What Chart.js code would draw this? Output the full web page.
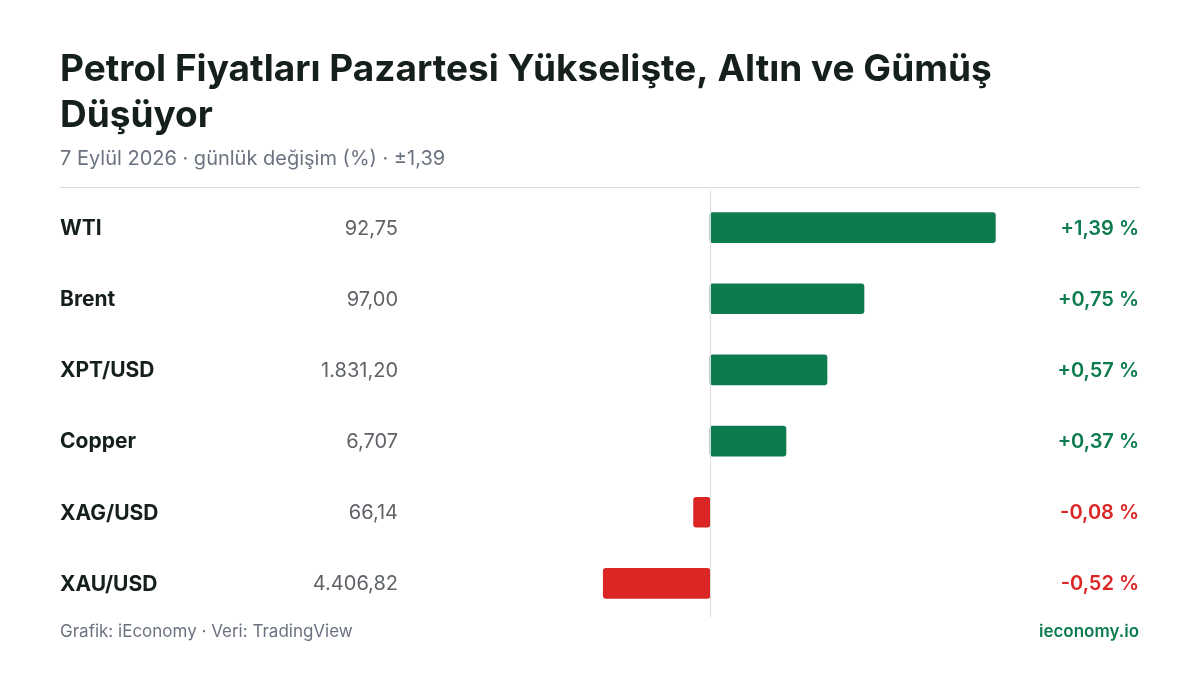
<!DOCTYPE html>
<html><head><meta charset="utf-8">
<script src="https://cdn.jsdelivr.net/npm/chart.js@4"></script>
<style>body{margin:0;background:#fff}#wrap{width:1200px;height:675px;position:relative}</style>
</head><body><div id="wrap"><canvas id="c"></canvas></div>
<script>
const names = ["WTI", "Brent", "XPT/USD", "Copper", "XAG/USD", "XAU/USD"];
const prices = ["92,75", "97,00", "1.831,20", "6,707", "66,14", "4.406,82"];
const changes = [1.39, 0.75, 0.57, 0.37, -0.08, -0.52];
const changeLabels = ["+1,39 %", "+0,75 %", "+0,57 %", "+0,37 %", "-0,08 %", "-0,52 %"];

const green = "#0c7c4e", red = "#dc2626";

const textPlugin = {
    id: "texts",
    afterDraw(chart) {
        const ctx = chart.ctx, y = chart.scales.y, x = chart.scales.x;
        ctx.save();
        ctx.fillStyle = "#15201b";
        ctx.font = "bold 37px Inter";
        ctx.textBaseline = "alphabetic";
        ctx.fillText("Petrol Fiyatları Pazartesi Yükselişte, Altın ve Gümüş", 60, 81);
        ctx.fillText("Düşüyor", 60, 127);
        ctx.fillStyle = "#6b7280";
        ctx.font = "20px Inter";
        ctx.fillText("7 Eylül 2026 · günlük değişim (%) · ±1,39", 60, 165);
        ctx.strokeStyle = "#dcdcdc";
        ctx.lineWidth = 1;
        ctx.beginPath(); ctx.moveTo(60, 187.5); ctx.lineTo(1140, 187.5); ctx.stroke();
        const zx = Math.round(x.getPixelForValue(0)) + 0.5;
        ctx.beginPath(); ctx.moveTo(zx, 190); ctx.lineTo(zx, 617); ctx.stroke();
        ctx.textBaseline = "middle";
        names.forEach((n, i) => {
            const py = y.getPixelForValue(i) + 1;
            ctx.textAlign = "left";
            ctx.fillStyle = "#15201b";
            ctx.font = "bold 21px Inter";
            ctx.fillText(n, 60, py);
            ctx.textAlign = "right";
            ctx.fillStyle = "#5f6368";
            ctx.font = "20px Inter";
            ctx.fillText(prices[i], 398, py);
            ctx.fillStyle = changes[i] >= 0 ? green : red;
            ctx.font = "600 20px Inter";
            ctx.fillText(changeLabels[i], 1139, py);
        });
        ctx.textAlign = "left";
        ctx.textBaseline = "alphabetic";
        ctx.fillStyle = "#6b7280";
        ctx.font = "17px Inter";
        ctx.fillText("Grafik: iEconomy · Veri: TradingView", 60, 637);
        ctx.textAlign = "right";
        ctx.fillStyle = green;
        ctx.font = "600 17px Inter";
        ctx.fillText("ieconomy.io", 1139, 637);
        ctx.restore();
    }
};

new Chart(document.getElementById("c"), {
    type: "bar",
    data: {
        labels: names,
        datasets: [{
            data: changes,
            backgroundColor: changes.map(v => v >= 0 ? green : red),
            barThickness: 30,
            borderRadius: 3,
            borderSkipped: false
        }]
    },
    options: {
        indexAxis: "y",
        responsive: true,
        maintainAspectRatio: false,
        animation: false,
        layout: { padding: { left: 400, right: 180, top: 192, bottom: 56 } },
        plugins: { legend: { display: false }, tooltip: { enabled: false } },
        scales: {
            x: { min: -1.51, max: 1.51, display: false },
            y: { display: false }
        }
    },
    plugins: [textPlugin]
});
</script></body></html>
